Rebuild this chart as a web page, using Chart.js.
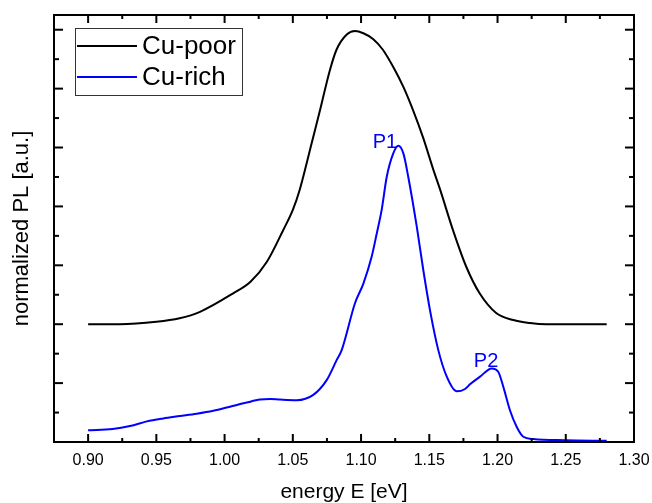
<!DOCTYPE html>
<html><head><meta charset="utf-8">
<script src="https://cdn.jsdelivr.net/npm/chart.js@4.4.1/dist/chart.umd.min.js"></script>
<style>html,body{margin:0;padding:0;background:#fff;}#wrap{width:652px;height:503px;}</style>
</head><body><div id="wrap"><canvas id="c" width="652" height="503"></canvas></div>
<script>
// ---- data ----
const seriesNames = ['Cu-poor', 'Cu-rich'];
const seriesColors = ['#000000', '#0000ff'];
const poorE  = [0.900,0.923,0.950,0.967,0.982,1.006,1.019,1.031,1.043,1.050,1.055,1.060,1.063,1.070,1.077,1.082,1.0895,1.0956,1.1017,1.109,1.116,1.124,1.131,1.138,1.1456,1.153,1.158,1.1676,1.177,1.187,1.199,1.2116,1.2238,1.236,1.255,1.280];
const poorPL = [2.00,2.00,2.04,2.10,2.21,2.52,2.72,3.06,3.60,3.94,4.28,4.72,5.00,5.64,6.30,6.66,6.92,6.98,6.94,6.84,6.66,6.35,6.03,5.64,5.16,4.62,4.28,3.58,2.98,2.52,2.19,2.07,2.02,2.00,2.00,2.00];
const richE  = [0.900,0.918,0.9307,0.943,0.955,0.9673,0.9796,0.9917,1.004,1.0162,1.026,1.0333,1.0406,1.0528,1.065,1.0748,1.0821,1.0858,1.0956,1.1017,1.1078,1.1115,1.1151,1.1188,1.1236,1.1273,1.131,1.1346,1.1408,1.1456,1.1505,1.1566,1.1628,1.1701,1.1762,1.1798,1.1872,1.1957,1.2006,1.2042,1.2091,1.214,1.2189,1.2262,1.250,1.280];
const richPL = [0.20,0.22,0.27,0.35,0.40,0.44,0.48,0.53,0.60,0.67,0.72,0.73,0.72,0.71,0.80,1.05,1.39,1.56,2.36,2.69,3.15,3.54,3.94,4.50,4.90,5.03,4.90,4.50,3.66,2.92,2.24,1.56,1.11,0.86,0.90,0.98,1.11,1.25,1.19,0.94,0.54,0.26,0.09,0.05,0.03,0.02];
const xTickValues = [0.90,0.95,1.00,1.05,1.10,1.15,1.20,1.25,1.30];
const xMinorValues = [0.925,0.975,1.025,1.075,1.125,1.175,1.225,1.275];
const yMajorValues = [0,1,2,3,4,5,6,7];
const yMinorValues = [0.5,1.5,2.5,3.5,4.5,5.5,6.5];
const peakLabels = ['P1', 'P2'];
const peakE  = [1.1175, 1.1916];
const peakPL = [4.99, 1.28];

const FONT = '"Liberation Sans", Arial, sans-serif';

const framePlugin = {
  id: 'frame',
  afterDatasetsDraw(chart) {
    const {ctx, chartArea: a, scales: {x, y}} = chart;
    ctx.save();
    ctx.strokeStyle = '#000';
    ctx.lineWidth = 2;
    ctx.strokeRect(a.left, a.top, a.right - a.left, a.bottom - a.top);
    const tick = (x1, y1, x2, y2) => { ctx.beginPath(); ctx.moveTo(x1, y1); ctx.lineTo(x2, y2); ctx.stroke(); };
    xTickValues.forEach(v => { const px = x.getPixelForValue(v); tick(px, a.bottom, px, a.bottom - 8); tick(px, a.top, px, a.top + 8); });
    xMinorValues.forEach(v => { const px = x.getPixelForValue(v); tick(px, a.bottom, px, a.bottom - 4); tick(px, a.top, px, a.top + 4); });
    yMajorValues.forEach(v => { const py = y.getPixelForValue(v); tick(a.left, py, a.left + 9, py); tick(a.right, py, a.right - 9, py); });
    yMinorValues.forEach(v => { const py = y.getPixelForValue(v); tick(a.left, py, a.left + 5, py); tick(a.right, py, a.right - 5, py); });
    // peak labels
    ctx.fillStyle = '#0000ff';
    ctx.font = '20px ' + FONT;
    ctx.textAlign = 'center';
    ctx.textBaseline = 'alphabetic';
    peakLabels.forEach((t, i) => ctx.fillText(t, x.getPixelForValue(peakE[i]), y.getPixelForValue(peakPL[i])));
    // legend
    const lx = a.left + 21, ly = a.top + 13, lw = 167, lh = 67;
    ctx.fillStyle = '#fff';
    ctx.fillRect(lx, ly, lw, lh);
    ctx.strokeStyle = '#333';
    ctx.lineWidth = 1;
    ctx.strokeRect(lx + 0.5, ly + 0.5, lw, lh);
    ctx.font = '26px ' + FONT;
    ctx.textAlign = 'left';
    ctx.textBaseline = 'middle';
    seriesNames.forEach((n, i) => {
      const cy = ly + 18 + i * 31;
      ctx.strokeStyle = seriesColors[i];
      ctx.lineWidth = 2;
      tick(lx + 2, cy, lx + 62, cy);
      ctx.fillStyle = '#000';
      ctx.fillText(n, lx + 67, cy + 1);
    });
    ctx.restore();
  }
};

const toPts = (xs, ys) => xs.map((v, i) => ({x: v, y: ys[i]}));

new Chart(document.getElementById('c'), {
  type: 'line',
  data: {
    datasets: [
      {label: seriesNames[0], data: toPts(poorE, poorPL), borderColor: seriesColors[0], borderWidth: 2, pointRadius: 0, cubicInterpolationMode: 'monotone', fill: false},
      {label: seriesNames[1], data: toPts(richE, richPL), borderColor: seriesColors[1], borderWidth: 2, pointRadius: 0, cubicInterpolationMode: 'monotone', fill: false}
    ]
  },
  options: {
    responsive: false,
    animation: false,
    devicePixelRatio: 1,
    layout: {padding: {top: 15, right: 18, left: 0, bottom: 0}},
    plugins: {legend: {display: false}, tooltip: {enabled: false}},
    scales: {
      x: {
        type: 'linear', position: 'bottom', min: 0.875, max: 1.30,
        afterBuildTicks: s => { s.ticks = xTickValues.map(v => ({value: v})); },
        afterFit: s => { s.height = 61; s.paddingLeft = 0; s.paddingRight = 0; },
        grid: {display: false, drawTicks: false},
        border: {display: false},
        ticks: {color: '#000', font: {family: FONT, size: 16}, padding: 9, maxRotation: 0, autoSkip: false, callback: v => Number(v).toFixed(2)},
        title: {display: true, text: 'energy E [eV]', color: '#000', font: {family: FONT, size: 21, lineHeight: 1}, padding: {top: 0, bottom: 0}}
      },
      y: {
        type: 'linear', position: 'left', min: 0, max: 7.25,
        afterFit: s => { s.width = 54; },
        grid: {display: false, drawTicks: false},
        border: {display: false},
        ticks: {display: false},
        title: {display: true, text: 'normalized PL [a.u.]', color: '#000', font: {family: FONT, size: 22, lineHeight: 1}, padding: {top: 11, bottom: 0}}
      }
    }
  },
  plugins: [framePlugin]
});
</script></body></html>
